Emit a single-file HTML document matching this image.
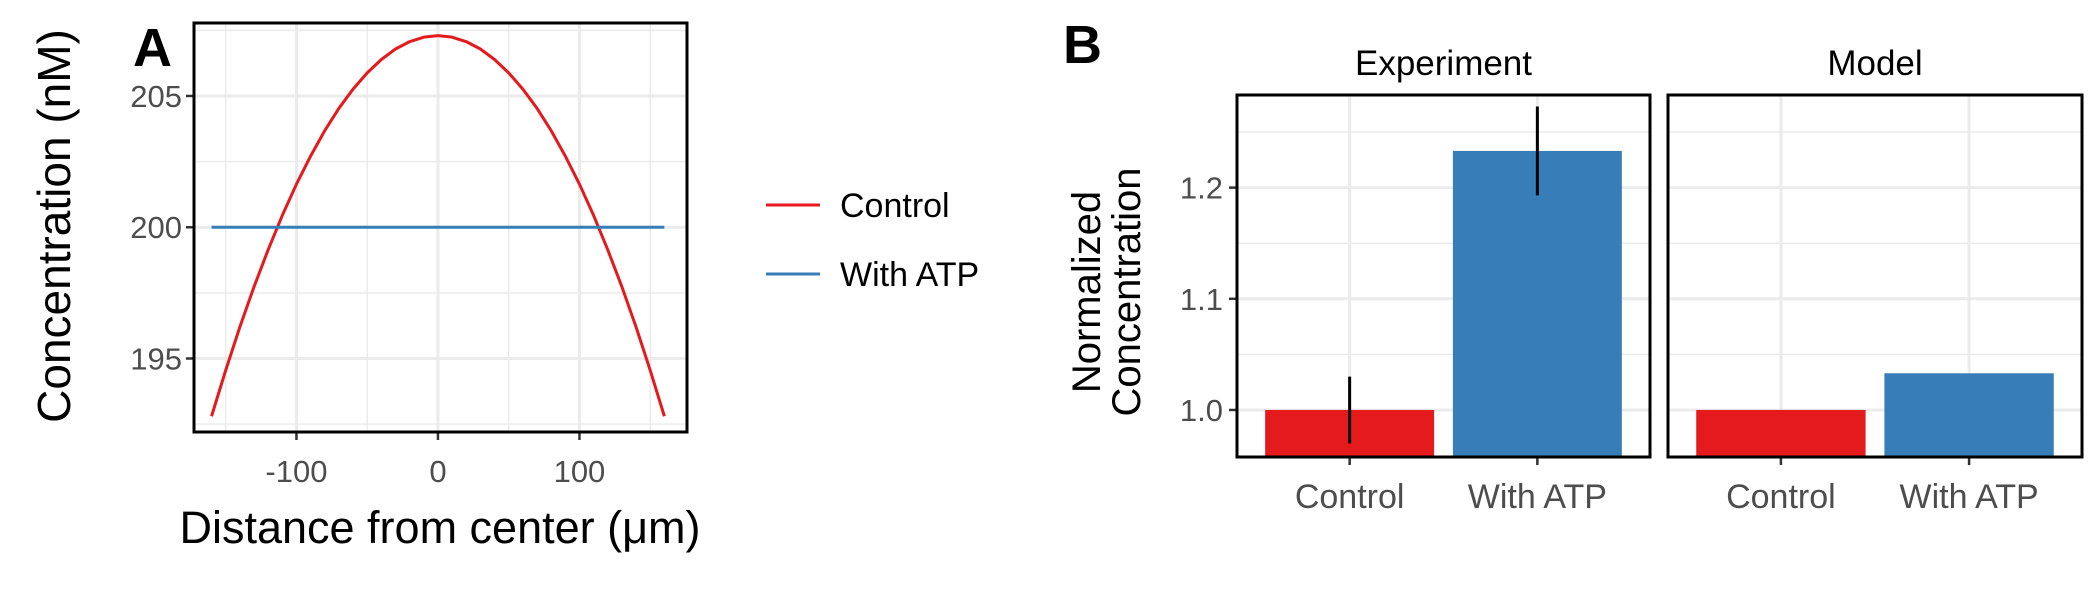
<!DOCTYPE html>
<html><head><meta charset="utf-8"><style>
body{margin:0;background:#fff}
svg{display:block;font-family:"Liberation Sans",sans-serif}
</style></head><body>
<svg id="chart" width="2100" height="600" viewBox="0 0 2100 600"></svg>
<script>
// Panel A data
const distX = [-160,-150,-140,-130,-120,-110,-100,-90,-80,-70,-60,-50,-40,-30,-20,-10,0,10,20,30,40,50,60,70,80,90,100,110,120,130,140,150,160];
const controlY = [192.8,194.55,196.2,197.73,199.14,200.45,201.64,202.71,203.68,204.53,205.26,205.88,206.39,206.79,207.07,207.24,207.3,207.24,207.07,206.79,206.39,205.88,205.26,204.53,203.68,202.71,201.64,200.45,199.14,197.73,196.2,194.55,192.8];
const atpX = [-160,160];
const atpY = [200,200];
const aXTicks = [-100,0,100];
const aYTicks = [195,200,205];
// Panel B data
const bCategories = ["Control","With ATP"];
const facets = ["Experiment","Model"];
const expValues = [1.0,1.233];
const expErrLow = [0.97,1.193];
const expErrHigh = [1.03,1.273];
const modelValues = [1.0,1.033];
const bYTicks = [1.0,1.1,1.2];
const bYTickLabels = ["1.0","1.1","1.2"];

const NS="http://www.w3.org/2000/svg";
const svg=document.getElementById('chart');
function mk(tag,attrs,parent){const e=document.createElementNS(NS,tag);for(const k in attrs)e.setAttribute(k,attrs[k]);(parent||svg).appendChild(e);return e;}
function txt(s,attrs){const e=mk('text',attrs);e.textContent=s;return e;}

// ---- Panel A ----
const AL=194,AR=687,AT=23,AB=432;
const ax=v=>AL+(v-(-172.4))/(176-(-172.4))*(AR-AL);
const ay=v=>AB-(v-192.2)/(207.78-192.2)*(AB-AT);
for(const v of [-150,-50,50,150]){let l=mk('line',{x1:ax(v),x2:ax(v),y1:AT,y2:AB,stroke:'#ebebeb','stroke-width':1.5});
}
for(const v of [192.5,197.5,202.5,207.5]){let l=mk('line',{x1:AL,x2:AR,y1:ay(v),y2:ay(v),stroke:'#ebebeb','stroke-width':1.5});
}
for(const v of aXTicks){let l=mk('line',{x1:ax(v),x2:ax(v),y1:AT,y2:AB,stroke:'#ebebeb','stroke-width':3});

let t=mk('line',{x1:ax(v),x2:ax(v),y1:AB,y2:AB+8,stroke:'#333','stroke-width':2.5});

let tl=txt(String(v),{x:ax(v),y:AB+50,'text-anchor':'middle','font-size':31,fill:'#4d4d4d'});
}
for(const v of aYTicks){let l=mk('line',{x1:AL,x2:AR,y1:ay(v),y2:ay(v),stroke:'#ebebeb','stroke-width':3});

let t=mk('line',{x1:AL-8,x2:AL,y1:ay(v),y2:ay(v),stroke:'#333','stroke-width':2.5});

let tl=txt(String(v),{x:AL-12,y:ay(v)+11,'text-anchor':'end','font-size':31,fill:'#4d4d4d'});
}
let cp=mk('polyline',{points:distX.map((x,i)=>ax(x)+','+ay(controlY[i])).join(' '),fill:'none',stroke:'#e41a1c','stroke-width':3,'stroke-linejoin':'round'});

let ap=mk('polyline',{points:atpX.map((x,i)=>ax(x)+','+ay(atpY[i])).join(' '),fill:'none',stroke:'#377eb8','stroke-width':3});

let ab=mk('rect',{x:AL,y:AT,width:AR-AL,height:AB-AT,fill:'none',stroke:'#000','stroke-width':3});

let la=txt('A',{x:133,y:66,'font-size':54,'font-weight':'bold'});

let ayt=txt('Concentration (nM)',{x:0,y:0,'font-size':46,'text-anchor':'middle',transform:'translate(70,226) rotate(-90)'});

let axt=txt('Distance from center (\u03bcm)',{x:440,y:543,'font-size':45,'text-anchor':'middle'});

// legend
let lg1=mk('line',{x1:766,x2:820,y1:205,y2:205,stroke:'#e41a1c','stroke-width':3});

let lt1=txt('Control',{x:840,y:217,'font-size':34});

let lg2=mk('line',{x1:766,x2:820,y1:274,y2:274,stroke:'#377eb8','stroke-width':3});

let lt2=txt('With ATP',{x:840,y:286,'font-size':34});


// ---- Panel B ----
const BT=95,BB=457;
const by=v=>BB-(v-0.9577)/(1.2833-0.9577)*(BB-BT);
const panels=[{L:1237,R:1650,vals:expValues,err:true},{L:1668,R:2082,vals:modelValues,err:false}];
panels.forEach((p,pi)=>{
  const band=(p.R-p.L)/(bCategories.length+0.2);
  const bx=i=>p.L+band*0.6+band*i;
  for(const v of [1.05,1.15,1.25]){let l=mk('line',{x1:p.L,x2:p.R,y1:by(v),y2:by(v),stroke:'#ebebeb','stroke-width':1.5});
  }
  bYTicks.forEach((v,i)=>{let l=mk('line',{x1:p.L,x2:p.R,y1:by(v),y2:by(v),stroke:'#ebebeb','stroke-width':3});
  
  if(pi===0){let t=mk('line',{x1:p.L-8,x2:p.L,y1:by(v),y2:by(v),stroke:'#333','stroke-width':2.5});
  
  let tl=txt(bYTickLabels[i],{x:p.L-14,y:by(v)+11,'text-anchor':'end','font-size':31,fill:'#4d4d4d'});
  }});
  bCategories.forEach((c,i)=>{let l=mk('line',{x1:bx(i),x2:bx(i),y1:BT,y2:BB,stroke:'#ebebeb','stroke-width':3});
  });
  const colors=['#e41a1c','#377eb8'];
  p.vals.forEach((v,i)=>{const w=band*0.9;
    let r=mk('rect',{x:bx(i)-w/2,y:by(v),width:w,height:BB-by(v),fill:colors[i]});
    
    
    if(p.err){let e=mk('line',{x1:bx(i),x2:bx(i),y1:by(expErrLow[i]),y2:by(expErrHigh[i]),stroke:'#000','stroke-width':3});
      }
    let t=mk('line',{x1:bx(i),x2:bx(i),y1:BB,y2:BB+8,stroke:'#333','stroke-width':2.5});
    
    let tl=txt(bCategories[i],{x:bx(i),y:BB+51,'text-anchor':'middle','font-size':34,fill:'#4d4d4d'});
    
  });
  let b=mk('rect',{x:p.L,y:BT,width:p.R-p.L,height:BB-BT,fill:'none',stroke:'#000','stroke-width':3});
  
  let s=txt(facets[pi],{x:(p.L+p.R)/2,y:75,'text-anchor':'middle','font-size':35});
  
});
let lb=txt('B',{x:1063,y:63,'font-size':54,'font-weight':'bold'});

let g=mk('g',{transform:'translate(1100,292) rotate(-90)'});


let t1=mk('text',{x:0,y:0,'font-size':40,'text-anchor':'middle'},g);t1.textContent='Normalized';
let t2=mk('text',{x:0,y:40,'font-size':40,'text-anchor':'middle'},g);t2.textContent='Concentration';
</script>
</body></html>
